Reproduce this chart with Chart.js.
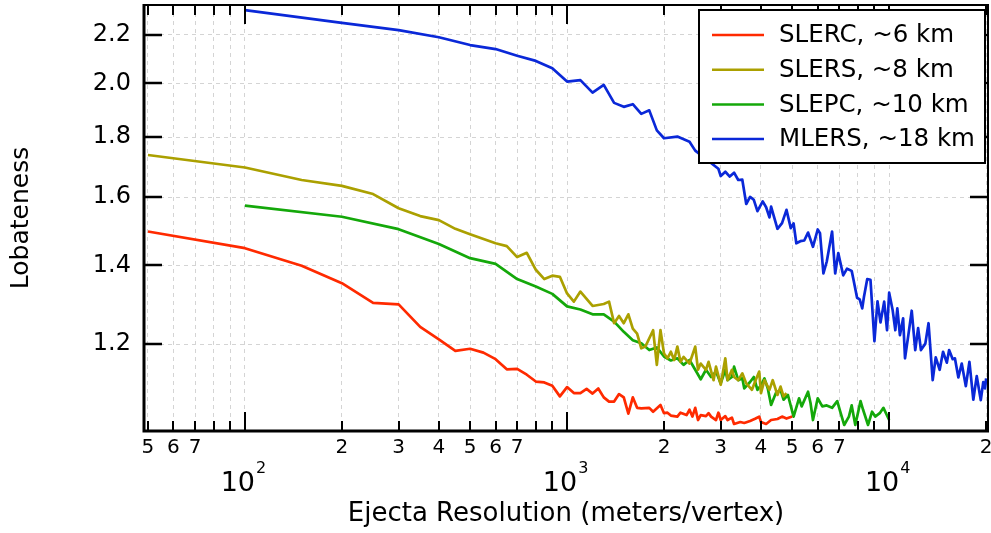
<!DOCTYPE html>
<html>
<head>
<meta charset="utf-8">
<script src="https://cdn.jsdelivr.net/npm/chart.js@4.4.0/dist/chart.umd.min.js"></script>
<style>
  html, body { margin: 0; padding: 0; background: #fff; }
  #wrap { width: 991px; height: 533px; position: relative; }
</style>
</head>
<body>
<div id="wrap"><canvas id="chart"></canvas></div>
<script>
var FONT = "'DejaVu Sans', sans-serif";

var X_TICKS = [50, 60, 70, 80, 90, 100, 200, 300, 400, 500, 600, 700, 800, 900,
               1000, 2000, 3000, 4000, 5000, 6000, 7000, 8000, 9000, 10000, 20000];
var X_MAJOR = [100, 1000, 10000];
var Y_TICKS = [1.2, 1.4, 1.6, 1.8, 2.0, 2.2];

var LABELS = ['SLERC, ~6 km', 'SLERS, ~8 km', 'SLEPC, ~10 km', 'MLERS, ~18 km'];
var COLORS = ['#ff2a00', '#aba000', '#14a80a', '#0a28d8'];

// [meters/vertex, lobateness]
var slerc = [[50,1.496],[100,1.448],[150,1.399],[200,1.352],[250,1.301],[300,1.297],[350,1.241],
  [400,1.211],[450,1.184],[500,1.189],[550,1.180],[600,1.165],[650,1.142],[700,1.143],[750,1.130],
  [800,1.115],[850,1.113],[900,1.106],[950,1.083],[1000,1.103],[1050,1.090],[1100,1.090],[1150,1.099],
  [1200,1.089],[1250,1.100],[1300,1.081],[1350,1.072],[1400,1.072],[1450,1.088],[1500,1.081],
  [1550,1.047],[1600,1.081],[1650,1.059],[1700,1.058],[1800,1.059],[1850,1.051],[1950,1.065],
  [2000,1.048],[2050,1.049],[2100,1.043],[2200,1.041],[2250,1.049],[2350,1.044],[2400,1.055],
  [2450,1.041],[2500,1.059],[2550,1.034],[2600,1.044],[2700,1.042],[2750,1.048],[2800,1.041],
  [2900,1.034],[2950,1.049],[3000,1.034],[3100,1.042],[3150,1.034],[3250,1.039],[3300,1.026],
  [3450,1.030],[3550,1.028],[3700,1.032],[3850,1.037],[3950,1.041],[4000,1.030],[4150,1.026],
  [4300,1.034],[4500,1.036],[4650,1.041],[4800,1.037],[5000,1.041]];

var slers = [[50,1.738],[100,1.696],[150,1.655],[200,1.636],[250,1.610],[300,1.566],[350,1.542],
  [400,1.530],[450,1.504],[500,1.488],[600,1.462],[650,1.454],[700,1.423],[750,1.435],[800,1.388],
  [850,1.363],[900,1.372],[950,1.369],[1000,1.325],[1050,1.304],[1100,1.330],[1200,1.293],
  [1300,1.298],[1350,1.304],[1400,1.250],[1450,1.268],[1500,1.250],[1550,1.272],[1600,1.237],
  [1650,1.225],[1700,1.190],[1750,1.194],[1850,1.233],[1900,1.152],[1950,1.233],[2000,1.178],
  [2050,1.167],[2100,1.182],[2150,1.163],[2200,1.194],[2250,1.159],[2300,1.170],[2400,1.155],
  [2500,1.194],[2550,1.141],[2600,1.155],[2700,1.141],[2750,1.159],[2850,1.118],[2900,1.148],
  [3000,1.108],[3100,1.167],[3150,1.118],[3250,1.141],[3300,1.125],[3400,1.118],[3500,1.133],
  [3600,1.111],[3750,1.097],[3850,1.118],[3950,1.137],[4000,1.090],[4100,1.118],[4250,1.097],
  [4350,1.118],[4500,1.086],[4600,1.104],[4700,1.083],[4800,1.090]];

var slepc = [[100,1.574],[200,1.540],[300,1.503],[400,1.460],[500,1.420],[600,1.404],[700,1.363],
  [800,1.343],[900,1.324],[1000,1.292],[1100,1.284],[1200,1.272],[1300,1.272],[1400,1.254],
  [1500,1.229],[1600,1.209],[1700,1.202],[1800,1.186],[1900,1.192],[2000,1.171],[2100,1.162],
  [2200,1.167],[2300,1.152],[2400,1.163],[2500,1.141],[2600,1.120],[2700,1.141],[2800,1.125],
  [2900,1.137],[3000,1.111],[3100,1.141],[3150,1.118],[3250,1.125],[3300,1.148],[3400,1.118],
  [3500,1.122],[3550,1.100],[3700,1.114],[3800,1.125],[3900,1.097],[4000,1.107],[4100,1.122],
  [4200,1.100],[4300,1.065],[4450,1.090],[4600,1.097],[4700,1.076],[4850,1.086],[5050,1.041],
  [5250,1.079],[5350,1.062],[5600,1.093],[5700,1.069],[5800,1.034],[6000,1.079],[6200,1.062],
  [6400,1.064],[6650,1.059],[6900,1.073],[7050,1.051],[7250,1.024],[7500,1.041],[7650,1.064],
  [7850,1.024],[8150,1.073],[8300,1.055],[8600,1.024],[8850,1.051],[9050,1.041],[9350,1.048],
  [9600,1.059],[10000,1.034]];

var mlers = [[100,2.309],[200,2.252],[300,2.220],[400,2.189],[500,2.156],[600,2.139],[700,2.111],
  [800,2.090],[900,2.060],[1000,2.007],[1100,2.013],[1200,1.964],[1300,1.994],[1400,1.925],
  [1500,1.910],[1600,1.920],[1700,1.884],[1800,1.897],[1900,1.824],[2000,1.796],[2200,1.802],
  [2400,1.784],[2500,1.753],[2950,1.692],[3000,1.668],[3100,1.682],[3200,1.666],[3300,1.679],
  [3400,1.655],[3500,1.656],[3600,1.579],[3700,1.601],[3800,1.592],[3900,1.557],[4050,1.587],
  [4150,1.569],[4250,1.538],[4300,1.571],[4500,1.504],[4650,1.521],[4800,1.561],[4950,1.506],
  [5050,1.520],[5150,1.462],[5300,1.468],[5450,1.470],[5600,1.493],[5800,1.452],[6000,1.502],
  [6100,1.491],[6250,1.378],[6400,1.410],[6650,1.496],[6800,1.378],[6950,1.434],[7200,1.373],
  [7400,1.391],[7650,1.385],[7750,1.361],[7950,1.314],[8100,1.310],[8250,1.287],[8350,1.316],
  [8550,1.363],[8750,1.361],[9000,1.207],[9200,1.305],[9400,1.252],[9650,1.304],[9850,1.233],
  [10000,1.327],[10250,1.283],[10450,1.233],[10600,1.287],[10800,1.221],[11050,1.262],
  [11200,1.167],[11450,1.217],[11750,1.281],[12050,1.186],[12300,1.238],[12550,1.186],
  [12950,1.201],[13250,1.250],[13650,1.118],[13950,1.169],[14350,1.141],[14700,1.182],
  [15100,1.157],[15350,1.186],[15750,1.165],[16000,1.167],[16400,1.124],[16800,1.155],
  [17300,1.105],[17750,1.159],[18250,1.076],[18700,1.127],[19250,1.075],[19600,1.114],
  [19850,1.100],[20000,1.122]];

var SERIES = [slerc, slers, slepc, mlers];

function mantissa(v) {
    return Math.round(v / Math.pow(10, Math.floor(Math.log10(v) + 1e-9)));
}

// inward ticks, frame, 10^n labels, boxed legend
var decor = {
    id: 'decor',
    afterDatasetsDraw: function (chart) {
        var ctx = chart.ctx, a = chart.chartArea;
        var xs = chart.scales.x, ys = chart.scales.y;
        ctx.save();
        ctx.strokeStyle = '#000';
        ctx.fillStyle = '#000';

        ctx.lineWidth = 2;
        X_TICKS.forEach(function (v) {
            var px = Math.round(xs.getPixelForValue(v));
            var len = X_MAJOR.indexOf(v) >= 0 ? 19 : 10;
            ctx.beginPath();
            ctx.moveTo(px, a.bottom); ctx.lineTo(px, a.bottom - len);
            ctx.moveTo(px, a.top); ctx.lineTo(px, a.top + len);
            ctx.stroke();
        });
        ctx.lineWidth = 2.5;
        Y_TICKS.forEach(function (v) {
            var py = Math.round(ys.getPixelForValue(v));
            ctx.beginPath();
            ctx.moveTo(a.left, py); ctx.lineTo(a.left + 18, py);
            ctx.moveTo(a.right, py); ctx.lineTo(a.right - 18, py);
            ctx.stroke();
        });

        ctx.lineWidth = 2;
        ctx.beginPath();
        ctx.moveTo(a.left, a.top); ctx.lineTo(a.right, a.top); ctx.lineTo(a.right, a.bottom);
        ctx.stroke();
        ctx.lineWidth = 3;
        ctx.beginPath();
        ctx.moveTo(a.left, a.top - 1); ctx.lineTo(a.left, a.bottom); ctx.lineTo(a.right + 1, a.bottom);
        ctx.stroke();

        ctx.textBaseline = 'alphabetic';
        ctx.textAlign = 'left';
        X_MAJOR.forEach(function (v) {
            var px = xs.getPixelForValue(v);
            var exp = String(Math.round(Math.log10(v)));
            ctx.font = '27px ' + FONT;
            var w1 = ctx.measureText('10').width;
            ctx.font = '16px ' + FONT;
            var w2 = ctx.measureText(exp).width;
            var x0 = px - (w1 + w2) / 2 - 2;
            ctx.font = '27px ' + FONT;
            ctx.fillText('10', x0, 491);
            ctx.font = '16px ' + FONT;
            ctx.fillText(exp, x0 + w1 + 1, 473);
        });
        ctx.restore();
    },
    afterDraw: function (chart) {
        var ctx = chart.ctx;
        ctx.save();
        ctx.fillStyle = '#fff';
        ctx.fillRect(699, 10, 286, 153);
        ctx.strokeStyle = '#000';
        ctx.lineWidth = 2;
        ctx.strokeRect(699, 10, 286, 153);
        ctx.font = '24.5px ' + FONT;
        ctx.textBaseline = 'middle';
        ctx.textAlign = 'left';
        chart.data.datasets.forEach(function (ds, i) {
            var y = 35 + i * 34.7;
            ctx.strokeStyle = ds.borderColor;
            ctx.lineWidth = 2.5;
            ctx.beginPath();
            ctx.moveTo(712, y); ctx.lineTo(764, y);
            ctx.stroke();
            ctx.fillStyle = '#000';
            ctx.fillText(ds.label, 779, y + 1);
        });
        ctx.restore();
    }
};

Chart.defaults.color = '#000';
Chart.defaults.font.family = FONT;

new Chart(document.getElementById('chart'), {
    type: 'line',
    data: {
        datasets: SERIES.map(function (s, i) {
            return {
                label: LABELS[i],
                data: s.map(function (p) { return { x: p[0], y: p[1] }; }),
                borderColor: COLORS[i],
                borderWidth: 2.7,
                borderJoinStyle: 'round',
                pointRadius: 0,
                tension: 0,
                fill: false
            };
        })
    },
    options: {
        responsive: true,
        maintainAspectRatio: false,
        animation: false,
        events: [],
        layout: { padding: { top: 5, right: 3, left: 0, bottom: 0 } },
        plugins: { legend: { display: false }, tooltip: { enabled: false } },
        scales: {
            x: {
                type: 'logarithmic',
                bounds: 'data',
                min: 48.6,
                max: 20270,
                afterBuildTicks: function (s) {
                    s.ticks = X_TICKS.map(function (v) { return { value: v }; });
                },
                afterFit: function (s) {
                    s.height = 102;
                    s.paddingLeft = 0;
                    s.paddingRight = 0;
                },
                ticks: {
                    autoSkip: false,
                    maxRotation: 0,
                    padding: 5,
                    font: { size: 20 },
                    callback: function (v) {
                        var m = mantissa(v);
                        return (m >= 2 && m <= 7) ? String(m) : '';
                    }
                },
                grid: { color: '#d4d4d4', lineWidth: 1, drawTicks: false },
                border: { display: false, dash: [4, 4] },
                title: {
                    display: true,
                    text: 'Ejecta Resolution (meters/vertex)',
                    font: { size: 26 },
                    padding: { top: 0, bottom: 3 }
                }
            },
            y: {
                type: 'logarithmic',
                bounds: 'data',
                min: 1.012,
                max: 2.332,
                afterBuildTicks: function (s) {
                    s.ticks = Y_TICKS.map(function (v) { return { value: v }; });
                },
                afterFit: function (s) {
                    s.width = 144;
                    s.paddingTop = 0;
                    s.paddingBottom = 0;
                },
                ticks: {
                    padding: 13,
                    font: { size: 24 },
                    callback: function (v) { return Number(v).toFixed(1); }
                },
                grid: { color: '#d4d4d4', lineWidth: 1, drawTicks: false },
                border: { display: false, dash: [4, 4] },
                title: {
                    display: true,
                    text: 'Lobateness',
                    font: { size: 25 },
                    padding: { top: 6, bottom: 0 }
                }
            }
        }
    },
    plugins: [decor]
});
</script>
</body>
</html>
